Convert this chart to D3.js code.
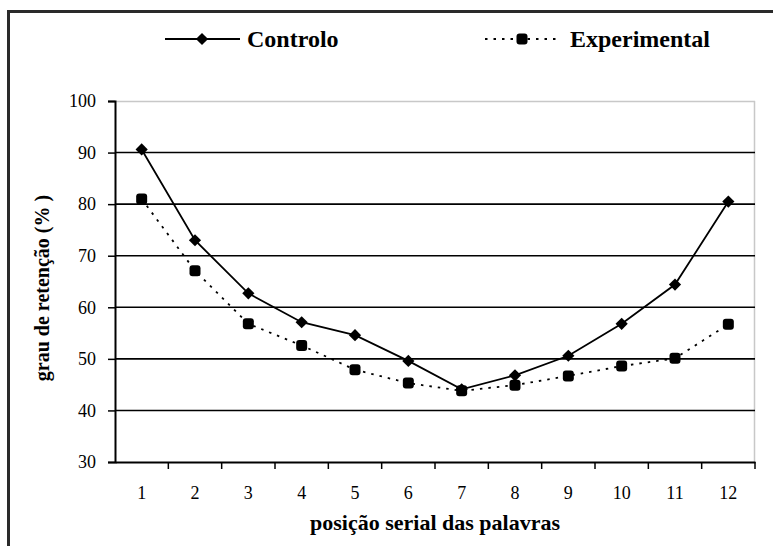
<!DOCTYPE html>
<html>
<head>
<meta charset="utf-8">
<script src="https://cdn.jsdelivr.net/npm/d3@7"></script>
<style>
  body { margin: 0; background: #fff; }
</style>
</head>
<body>
<div class="chart"></div>
<script>
// data
const positions = [1, 2, 3, 4, 5, 6, 7, 8, 9, 10, 11, 12];
const controlo = [90.6, 73.0, 62.7, 57.1, 54.6, 49.6, 44.1, 46.8, 50.6, 56.8, 64.4, 80.5];
const experimental = [81.0, 67.1, 56.8, 52.6, 47.9, 45.3, 43.8, 44.9, 46.7, 48.6, 50.1, 56.7];
const yTicks = [30, 40, 50, 60, 70, 80, 90, 100];

const FONT = 'Liberation Serif';
const W = 773, H = 546;
const margin = {top:101, left:115, bottom:84, right:18};
const width = W - margin.left - margin.right;
const height = H - margin.top - margin.bottom;

const svg = d3.select('.chart')
    .append('svg')
    .attr('width', W)
    .attr('height', H);

// outer frame of the scanned figure
svg.append('line').attr('x1',7).attr('x2',W).attr('y1',11.5).attr('y2',11.5)
    .attr('stroke','#2a2a2a').attr('stroke-width',3);
svg.append('line').attr('x1',8.5).attr('x2',8.5).attr('y1',10).attr('y2',H)
    .attr('stroke','#2a2a2a').attr('stroke-width',3);

const g = svg.append('g')
    .attr('transform', 'translate('+margin.left+','+margin.top+')');

const xScale = d3.scaleBand()
    .domain(positions)
    .range([0, width]);

const yScale = d3.scaleLinear()
    .domain([30, 100])
    .range([height, 0]);

// light plot border (top + right)
g.append('line').attr('x1',0).attr('x2',width).attr('y1',0.5).attr('y2',0.5)
    .attr('stroke','#c8c8c8').attr('stroke-width',1.5);
g.append('line').attr('x1',width-0.5).attr('x2',width-0.5).attr('y1',0).attr('y2',height)
    .attr('stroke','#c8c8c8').attr('stroke-width',1.5);

// gridlines
g.selectAll('.grid')
    .data(yTicks.filter(d => d > 30 && d < 100))
    .enter()
    .append('line')
    .attr('class','grid')
    .attr('x1',0).attr('x2',width)
    .attr('y1',d => yScale(d)).attr('y2',d => yScale(d))
    .attr('stroke','#000').attr('stroke-width',1.6);

// y axis
const yAxis = d3.axisLeft(yScale).tickValues(yTicks).tickSize(7).tickPadding(12);
const yG = g.append('g').attr('class','y-axis').call(yAxis);
yG.attr('font-family', FONT).attr('font-size', 18);
yG.select('.domain').attr('stroke-width',2);
yG.selectAll('.tick line').attr('stroke-width',1.5);
yG.selectAll('text').attr('fill','#000');

// x axis: labels at centres, tick marks between categories
const xAxis = d3.axisBottom(xScale).tickSize(0).tickPadding(24);
const xG = g.append('g').attr('class','x-axis')
    .attr('transform', `translate(0, ${height})`)
    .call(xAxis);
xG.attr('font-family', FONT).attr('font-size', 18);
xG.select('.domain').attr('stroke-width',2.2);
xG.selectAll('text').attr('fill','#000');
xG.selectAll('.between')
    .data(positions.slice(1).concat(['end']))
    .enter()
    .append('line')
    .attr('class','between')
    .attr('x1',d => d === 'end' ? width : xScale(d))
    .attr('x2',d => d === 'end' ? width : xScale(d))
    .attr('y1',0).attr('y2',7)
    .attr('stroke','#000').attr('stroke-width',1.5);

const cx = d => xScale(d) + xScale.bandwidth()/2;

const line = d3.line()
    .x(d => cx(d.pos))
    .y(d => yScale(d.v));

const expData = positions.map((p,i) => ({pos:p, v:experimental[i]}));
const conData = positions.map((p,i) => ({pos:p, v:controlo[i]}));

g.append('path').datum(expData)
    .attr('d', line)
    .attr('fill','none').attr('stroke','#000')
    .attr('stroke-width',1.8).attr('stroke-dasharray','2.5,6');

g.append('path').datum(conData)
    .attr('d', line)
    .attr('fill','none').attr('stroke','#000').attr('stroke-width',1.8);

const sq = 11;
g.selectAll('.exp')
    .data(expData)
    .enter()
    .append('rect')
    .attr('class','exp')
    .attr('x',d => cx(d.pos) - sq/2)
    .attr('y',d => yScale(d.v) - sq/2)
    .attr('width',sq).attr('height',sq)
    .attr('rx',3)
    .attr('fill','#000');

const diamond = d3.symbol().type(d3.symbolDiamond2).size(95);
g.selectAll('.con')
    .data(conData)
    .enter()
    .append('path')
    .attr('class','con')
    .attr('d', diamond)
    .attr('transform', d => `translate(${cx(d.pos)},${yScale(d.v)})`)
    .attr('fill','#000');

// axis titles
svg.append('text')
    .attr('x', 435).attr('y', 530)
    .attr('text-anchor','middle')
    .attr('font-family', FONT)
    .style('font-size','22px').style('font-weight','bold')
    .text('posição serial das palavras');

svg.append('text')
    .attr('transform','translate(49,288) rotate(-90)')
    .attr('text-anchor','middle')
    .attr('font-family', FONT)
    .style('font-size','20px').style('font-weight','bold')
    .text('grau de retenção (% )');

// legend
const leg = svg.append('g').attr('font-family', FONT);
leg.append('line').attr('x1',165).attr('x2',240).attr('y1',39).attr('y2',39)
    .attr('stroke','#000').attr('stroke-width',1.8);
leg.append('path').attr('d', diamond)
    .attr('transform','translate(202,39)').attr('fill','#000');
leg.append('text').attr('x',247).attr('y',47)
    .style('font-size','24px').style('font-weight','bold').text('Controlo');

leg.append('line').attr('x1',485).attr('x2',559).attr('y1',39).attr('y2',39)
    .attr('stroke','#000').attr('stroke-width',1.8).attr('stroke-dasharray','2.5,6');
leg.append('rect').attr('x',522-sq/2).attr('y',39-sq/2).attr('width',sq).attr('height',sq)
    .attr('rx',3).attr('fill','#000');
leg.append('text').attr('x',570).attr('y',47)
    .style('font-size','24px').style('font-weight','bold').text('Experimental');
</script>
</body>
</html>
